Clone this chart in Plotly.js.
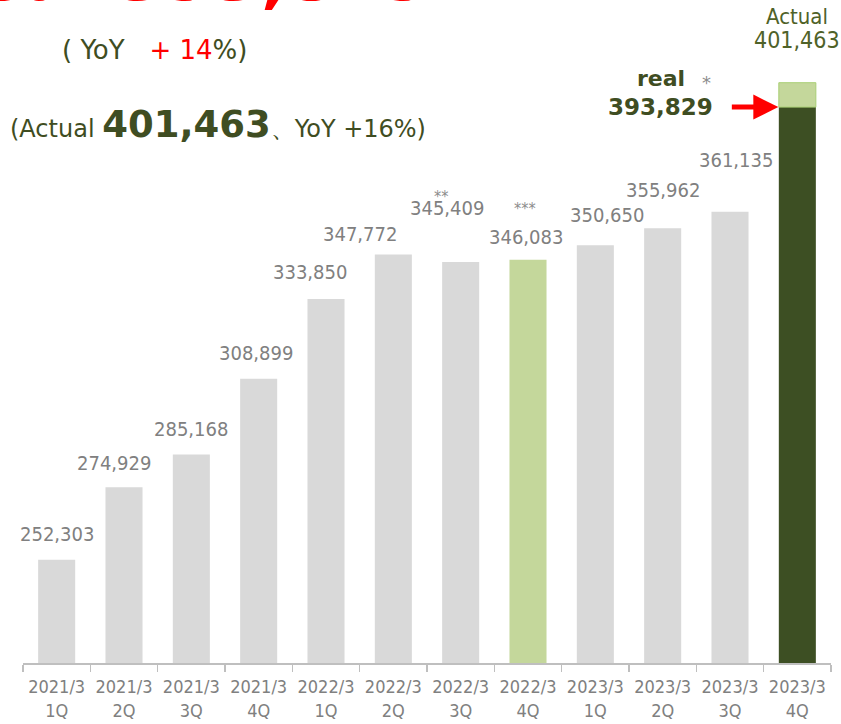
<!DOCTYPE html>
<html>
<head>
<meta charset="utf-8">
<script src="https://cdn.plot.ly/plotly-3.0.1.min.js"></script>
<style>html,body{margin:0;padding:0;background:#fff;}#chart{width:841px;height:724px;}</style>
</head>
<body>
<div id="chart"></div>
<script>
// ---- data ----
const fiscalYears = ['2021/3','2021/3','2021/3','2021/3','2022/3','2022/3','2022/3','2022/3','2023/3','2023/3','2023/3','2023/3'];
const quarters = ['1Q','2Q','3Q','4Q','1Q','2Q','3Q','4Q','1Q','2Q','3Q','4Q'];
const sales = [252303, 274929, 285168, 308899, 333850, 347772, 345409, 346083, 350650, 355962, 361135, 393829];
const actualLast = 401463;
const marks = ['', '', '', '', '', '', '**', '***', '', '', '', ''];

// ---- styling / layout config ----
const W = 841, H = 724, ML = 23, MR = 10, MT = 0, MB = 61;
const PW = W - ML - MR, PH = H - MT - MB;
const px = x => (x - ML) / PW;          // pixel x -> paper x
const py = y => (H - MB - y) / PH;      // pixel y -> paper y
const GRAY = '#d9d9d9', GREEN = '#c4d79b', DARK = '#3d4f23', TXT = '#808080', OLIVE = '#3f4d22', RED = '#ff0000';
const labelDy = [26, 24, 26, 26, 27, 20, 54, 23, 30, 38, 52];
const labelDx = [0, -10, 0, -3, -16, -33, -14, -2, 12, 0, 6];
const markDy = {6: 65, 7: 51};
const markDx = {6: -20, 7: -3};

const cats = fiscalYears.map((f, i) => f + '<br>' + quarters[i]);
const colors = cats.map((c, i) => i === 7 ? GREEN : (i === cats.length - 1 ? DARK : GRAY));
const last = cats.length - 1;

const traces = [
  {type: 'bar', x: cats, y: sales, marker: {color: colors, line: {width: 0}}, hoverinfo: 'skip'},
  {type: 'bar', x: [cats[last]], y: [actualLast - sales[last]], base: [sales[last]],
   marker: {color: GREEN, line: {color: '#a9cf74', width: 1}}, hoverinfo: 'skip'}
];

const fmt = v => v.toLocaleString('en-US');
const COND = 'DejaVu Sans Condensed, DejaVu Sans';
const LBL = {family: COND, size: 20, color: TXT};
const annotations = [];
for (let i = 0; i < last; i++) {
  annotations.push({x: cats[i], y: sales[i], xref: 'x', yref: 'y', text: fmt(sales[i]),
    showarrow: false, xanchor: 'center', yanchor: 'middle', yshift: labelDy[i], xshift: labelDx[i], font: LBL});
  if (marks[i]) {
    annotations.push({x: cats[i], y: sales[i], xref: 'x', yref: 'y', text: marks[i],
      showarrow: false, xanchor: 'center', yanchor: 'middle', yshift: markDy[i], xshift: markDx[i],
      font: {family: COND, size: 16, color: '#8c8c8c'}});
  }
}
// last bar labels
annotations.push({x: cats[last], xref: 'x', yref: 'paper', y: py(16), text: 'Actual', showarrow: false,
  yanchor: 'middle', font: {family: COND, size: 22, color: '#4f6228'}});
annotations.push({x: cats[last], xref: 'x', yref: 'paper', y: py(40), text: fmt(actualLast), showarrow: false,
  yanchor: 'middle', font: {family: COND, size: 23, color: '#4f6228'}});
annotations.push({x: cats[last], xref: 'x', yref: 'paper', y: py(78), xshift: -136, text: '<b>real</b>', showarrow: false,
  yanchor: 'middle', font: {family: 'DejaVu Sans', size: 22, color: OLIVE}});
annotations.push({x: cats[last], xref: 'x', yref: 'paper', y: py(107), xshift: -137, text: '<b>' + fmt(sales[last]) + '</b>', showarrow: false,
  yanchor: 'middle', font: {family: 'DejaVu Sans', size: 23, color: OLIVE}});
annotations.push({x: cats[last], xref: 'x', yref: 'paper', y: py(82), xshift: -91, text: '*', showarrow: false,
  yanchor: 'middle', font: {family: 'DejaVu Sans', size: 18, color: '#8c8c8c'}});
// red arrow pointing at real value
annotations.push({x: cats[last], y: sales[last], xref: 'x', yref: 'y', xshift: -19, text: '', showarrow: true,
  ax: -48, ay: 0, arrowhead: 2, arrowsize: 1, arrowwidth: 5, arrowcolor: RED, standoff: 0});
// top-left texts
annotations.push({xref: 'paper', yref: 'paper', x: px(433), y: py(18), xanchor: 'right', yanchor: 'bottom',
  text: '<b>real ' + fmt(sales[last]) + '</b>', showarrow: false,
  font: {family: 'DejaVu Sans', size: 69, color: RED}});
annotations.push({xref: 'paper', yref: 'paper', x: px(60), y: py(50), xanchor: 'left', yanchor: 'middle',
  text: '(\u00a0YoY\u00a0\u00a0\u00a0<span style="color:' + RED + '">+\u00a014</span>%)', showarrow: false,
  font: {family: 'DejaVu Sans', size: 26, color: OLIVE}});
annotations.push({xref: 'paper', yref: 'paper', x: px(8), y: py(124), xanchor: 'left', yanchor: 'middle',
  text: '(Actual <b><span style="font-size:37px">' + fmt(actualLast) + '</span></b>、YoY +16%)', showarrow: false,
  font: {family: 'DejaVu Sans', size: 24, color: OLIVE}});

const layout = {
  width: W, height: H, margin: {l: ML, r: MR, t: MT, b: MB, pad: 0},
  paper_bgcolor: '#fff', plot_bgcolor: '#fff', showlegend: false,
  barmode: 'overlay', bargap: 0.45,
  xaxis: {type: 'category', tickson: 'boundaries', ticks: 'outside', ticklen: 7, tickcolor: '#bfbfbf', tickwidth: 1.5,
    showline: true, linecolor: '#bfbfbf', linewidth: 1.5, showgrid: false, zeroline: false,
    range: [-0.5, cats.length - 0.5], autorange: false,
    tickangle: 0, automargin: false, ticklabelstandoff: 7,
    tickfont: {family: COND, size: 18, color: TXT}, fixedrange: true},
  yaxis: {visible: false, range: [220000, 427320], fixedrange: true, showgrid: false, zeroline: false, automargin: false},
  annotations: annotations
};
Plotly.newPlot('chart', traces, layout, {staticPlot: true, displayModeBar: false});
</script>
</body>
</html>
